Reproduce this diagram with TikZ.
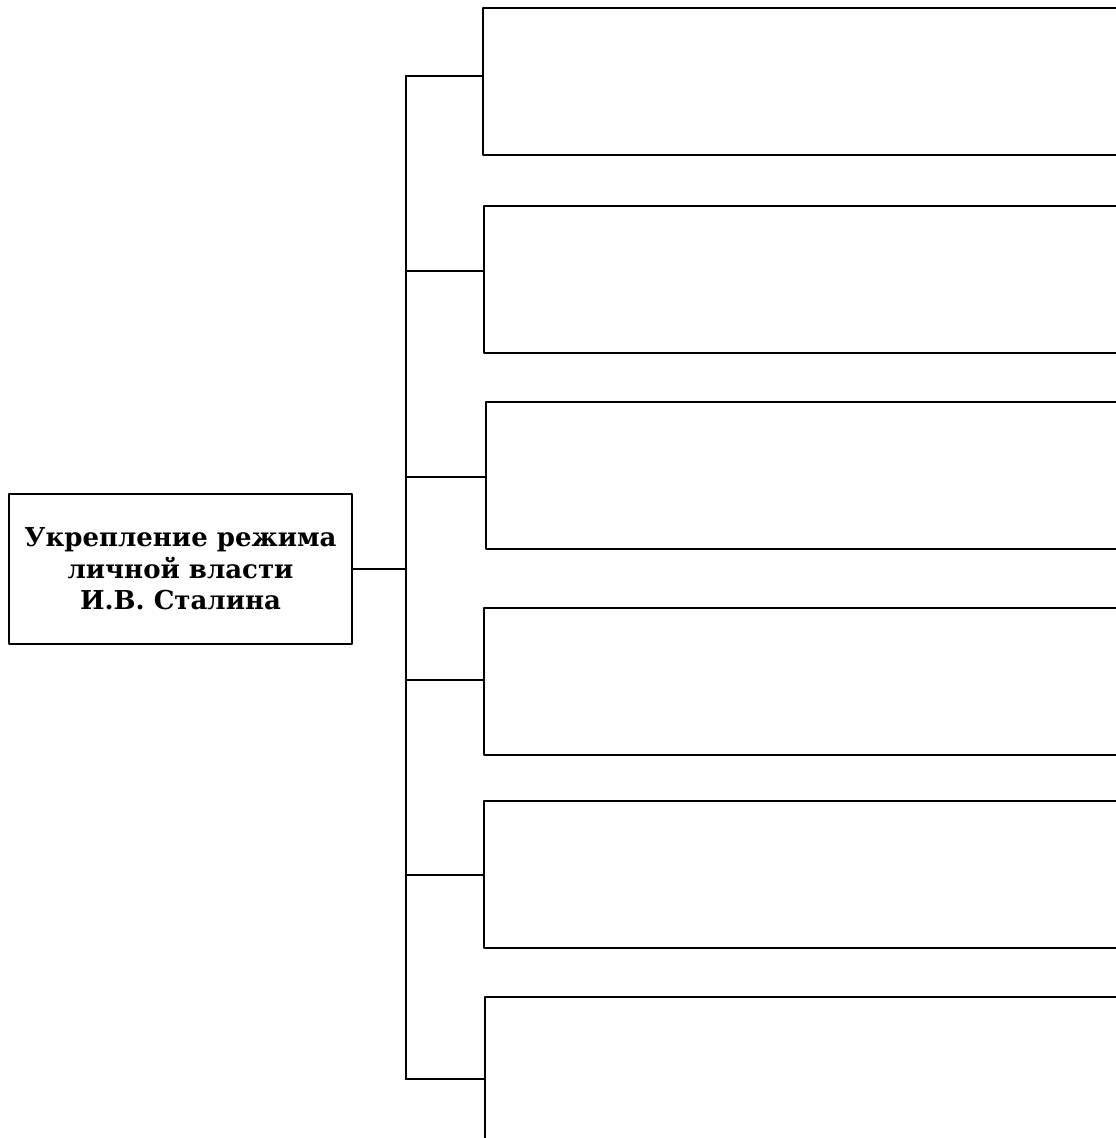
\documentclass[tikz,border=0pt]{standalone}
\usepackage{fontspec}
\setmainfont{DejaVu Serif}
\begin{document}
\begin{tikzpicture}[x=0.75pt,y=-0.75pt, line width=1.6pt, line join=round, line cap=round,
	box/.style={draw, anchor=north west, minimum width=484pt, minimum height=110pt, inner sep=0pt, outer sep=0pt},
	mainbox/.style={draw, align=center, minimum width=257pt, minimum height=112.5pt, inner sep=0pt, outer sep=0pt, font=\fontsize{19.5}{23.5}\selectfont\bfseries}]
	\useasboundingbox (0,0) rectangle (1115,1138);
	\node[mainbox] (main) at (180.5,569) {Укрепление режима\\личной власти\\И.В. Сталина};
	\node[box] (b1) at (483,8) {};
	\node[box] (b2) at (484,206) {};
	\node[box] (b3) at (486,402) {};
	\node[box] (b4) at (484,608) {};
	\node[box] (b5) at (484,801) {};
	\node[box] (b6) at (485,997) {};
	% trunk points
	\coordinate (t1) at (406,76);
	\coordinate (t2) at (406,271);
	\coordinate (t3) at (406,477);
	\coordinate (t4) at (406,680);
	\coordinate (t5) at (406,875);
	\coordinate (t6) at (406,1079);
	\draw (main.east)--(t1|-main.east);
	\draw (t1)--(t6);
	\draw (t1)--(t1-|b1.west) (t2)--(t2-|b2.west) (t3)--(t3-|b3.west);
	\draw (t4)--(t4-|b4.west) (t5)--(t5-|b5.west) (t6)--(t6-|b6.west);
\end{tikzpicture}
\end{document}
